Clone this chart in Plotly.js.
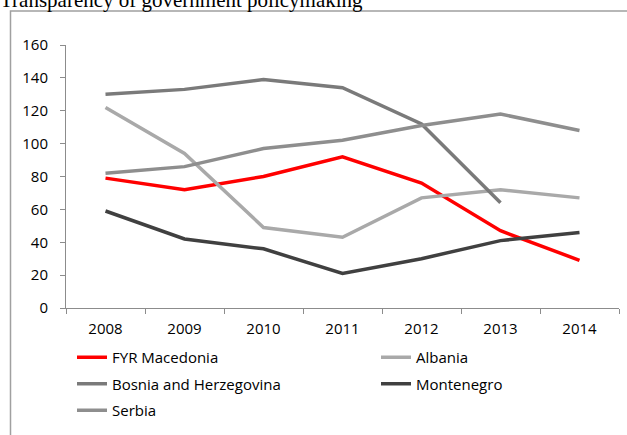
<!DOCTYPE html>
<html>
<head>
<meta charset="utf-8">
<script src="https://cdn.plot.ly/plotly-3.0.1.min.js"></script>
<style>html,body{margin:0;padding:0;background:#fff;}#chart{width:627px;height:435px;}</style>
</head>
<body>
<div id="chart"></div>
<script>
const years = ["2008", "2009", "2010", "2011", "2012", "2013", "2014"];
const macedonia = [79, 72, 80, 92, 76, 47, 29];
const albania = [122, 94, 49, 43, 67, 72, 67];
const bosnia = [130, 133, 139, 134, 112, 64, null];
const montenegro = [59, 42, 36, 21, 30, 41, 46];
const serbia = [82, 86, 97, 102, 111, 118, 108];
const yTicks = [0, 20, 40, 60, 80, 100, 120, 140, 160];

const FONT = "'Open Sans', Lato, sans-serif";

function tr(name, y, color, legend) {
  return {
    type: "scatter", mode: "lines", name: name, x: years, y: y,
    line: {color: color, width: 3.5}, legend: legend, legendgroup: name,
    connectgaps: false
  };
}

const data = [
  tr("FYR Macedonia", macedonia, "#FF0000", "legend"),
  tr("Albania", albania, "#A9A9A9", "legend2"),
  tr("Bosnia and Herzegovina", bosnia, "#7A7A7A", "legend"),
  tr("Montenegro", montenegro, "#404040", "legend2"),
  tr("Serbia", serbia, "#8E8E8E", "legend")
];

const W = 627, H = 435, L = 66, R = 8, T = 45, B = 127.3;
const pw = W - L - R, ph = H - T - B;
function px(x) { return (x - L) / pw; }
function py(y) { return (H - B - y) / ph; }

const legendCommon = {
  orientation: "v", xref: "container", yref: "container",
  yanchor: "top", xanchor: "left",
  font: {family: FONT, size: 15, color: "#000"},
  bgcolor: "rgba(0,0,0,0)", tracegroupgap: 4, itemclick: false
};

const layout = {
  width: W, height: H,
  margin: {l: L, r: R, t: T, b: B, autoexpand: false},
  paper_bgcolor: "#fff", plot_bgcolor: "#fff",
  showlegend: true,
  title: {
    text: "Transparency of government policymaking",
    font: {family: "'Liberation Serif', 'Times New Roman', serif", size: 21, color: "#000"},
    xref: "container", x: 0, xanchor: "left",
    yref: "container", y: 1 - 7 / H, yanchor: "bottom", automargin: false
  },
  xaxis: {
    type: "category", range: [-0.5, 6.5],
    showgrid: false, zeroline: false,
    showline: true, linecolor: "#8C8C8C", linewidth: 1,
    ticks: "outside", tickson: "boundaries", ticklen: 5, tickcolor: "#8C8C8C",
    tickfont: {family: FONT, size: 15, color: "#000"}, tickangle: 0,
    ticklabelstandoff: 7, fixedrange: true, automargin: false
  },
  yaxis: {
    range: [0, 160], tickvals: yTicks, ticktext: yTicks.map(String),
    showgrid: false, zeroline: false,
    showline: true, linecolor: "#8C8C8C", linewidth: 1,
    ticks: "outside", ticklen: 5, tickcolor: "#8C8C8C",
    tickfont: {family: FONT, size: 15, color: "#000"},
    ticklabelstandoff: 9, fixedrange: true, automargin: false
  },
  legend: Object.assign({}, legendCommon, {x: 72 / W, y: 1 - 341 / H}),
  legend2: Object.assign({}, legendCommon, {x: 376 / W, y: 1 - 341 / H}),
  shapes: [{
    type: "path", xref: "paper", yref: "paper",
    path: "M" + px(10.5) + "," + py(440) + " L" + px(10.5) + "," + py(11) + " L" + px(630) + "," + py(11),
    line: {color: "#A0A0A0", width: 1.5}
  }]
};

Plotly.newPlot("chart", data, layout, {displayModeBar: false, staticPlot: true});
</script>
</body>
</html>
